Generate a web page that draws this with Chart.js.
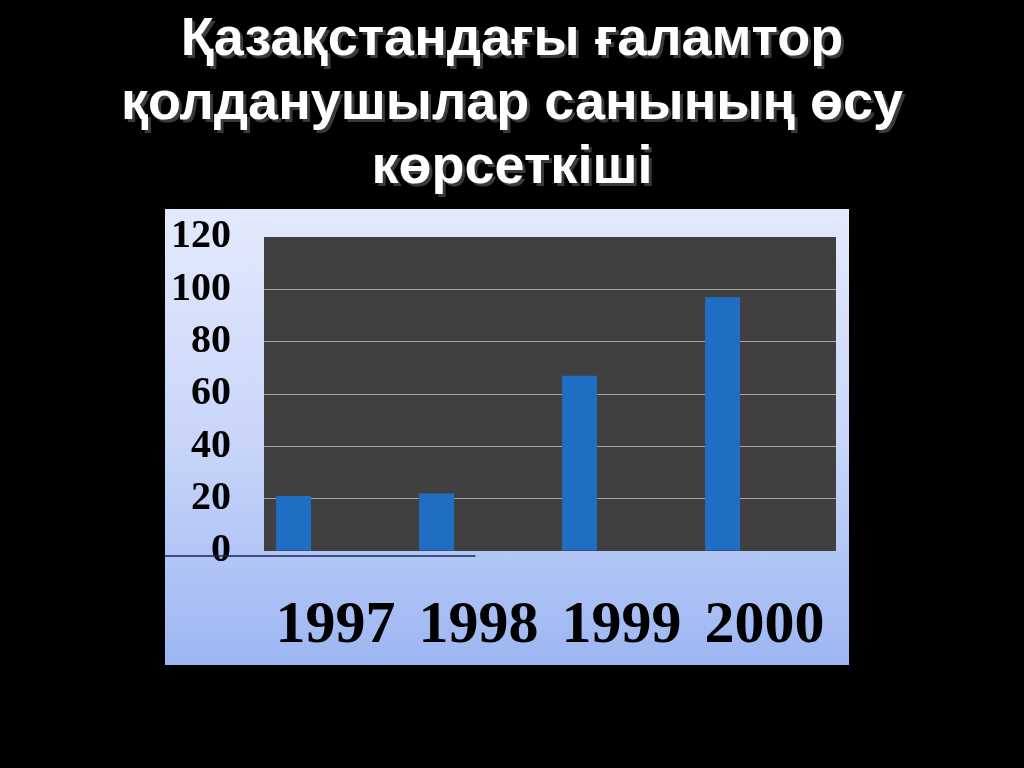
<!DOCTYPE html>
<html>
<head>
<meta charset="utf-8">
<script src="https://cdn.jsdelivr.net/npm/chart.js@4/dist/chart.umd.min.js"></script>
<style>
  html, body { margin:0; padding:0; background:#000; width:1024px; height:768px; overflow:hidden; }
  #title {
    position:absolute; left:0; top:4px; width:1024px; text-align:center;
    font-family:"Liberation Sans", Arial, sans-serif; font-weight:bold; font-size:54px;
    line-height:64px; color:#fff;
    text-shadow:3px 3px 0 #3a3a3a;
  }
  #panel {
    position:absolute; left:165px; top:209px; width:684px; height:456px;
    background:linear-gradient(to bottom, #e4eafc 0%, #c9d6f9 50%, #9db6f2 100%);
  }
  #panel canvas { display:block; }
</style>
</head>
<body>
<div id="title">Қазақстандағы ғаламтор<br>қолданушылар санының өсу<br>көрсеткіші</div>
<div id="panel"><canvas id="c" width="684" height="456"></canvas></div>
<script>
const categories = ["1997", "1998", "1999", "2000"];
const users = [21, 22, 67, 97];
const yTicks = [0, 20, 40, 60, 80, 100, 120];

const plotBg = {
  id: 'plotBg',
  beforeDraw(chart) {
    const {ctx, chartArea: a} = chart;
    ctx.save();
    ctx.fillStyle = '#404040';
    ctx.fillRect(a.left, a.top, a.right - a.left, a.bottom - a.top);
    ctx.restore();
  },
  afterDraw(chart) {
    const {ctx} = chart;
    const xs = chart.scales.x, ys = chart.scales.y;
    const yy = ys.getPixelForValue(0) + 5;
    ctx.save();
    ctx.strokeStyle = '#14245e';
    ctx.lineWidth = 1.5;
    ctx.beginPath();
    ctx.moveTo(0, yy);
    ctx.lineTo(xs.getPixelForValue(1) - 3, yy);
    ctx.stroke();
    ctx.restore();
  }
};

new Chart(document.getElementById('c'), {
  type: 'bar',
  data: {
    labels: categories,
    datasets: [
      { data: users, backgroundColor: '#1f6ec4', borderWidth: 0 },
      { data: [], backgroundColor: '#1f6ec4' },
      { data: [], backgroundColor: '#1f6ec4' }
    ]
  },
  options: {
    responsive: false,
    animation: false,
    devicePixelRatio: 1,
    categoryPercentage: 0.88,
    barPercentage: 0.833,
    layout: { padding: { top: 28, right: 13, left: 0, bottom: 0 } },
    plugins: { legend: { display: false }, tooltip: { enabled: false }, title: { display: false } },
    scales: {
      x: {
        grid: { display: false, drawTicks: false },
        border: { display: false },
        afterFit(s) { s.height = 114; s.paddingLeft = 0; s.paddingRight = 0; },
        ticks: {
          color: '#000', padding: 39, maxRotation: 0, autoSkip: false,
          font: { family: '"Liberation Serif", "Times New Roman", serif', weight: 'bold', size: 60 }
        }
      },
      y: {
        min: 0, max: 120,
        afterFit(s) { s.width = 99; s.paddingTop = 0; s.paddingBottom = 0; },
        afterBuildTicks(s) { s.ticks = yTicks.map(v => ({ value: v })); },
        border: { display: false },
        grid: {
          drawTicks: false,
          color: ctx => (ctx.tick && (ctx.tick.value === 0 || ctx.tick.value === 120)) ? 'rgba(0,0,0,0)' : '#a4a4a4',
          lineWidth: 1
        },
        ticks: {
          color: '#000', padding: 33, autoSkip: false,
          font: { family: '"Liberation Serif", "Times New Roman", serif', weight: 'bold', size: 40 }
        }
      }
    }
  },
  plugins: [plotBg]
});
</script>
</body>
</html>
